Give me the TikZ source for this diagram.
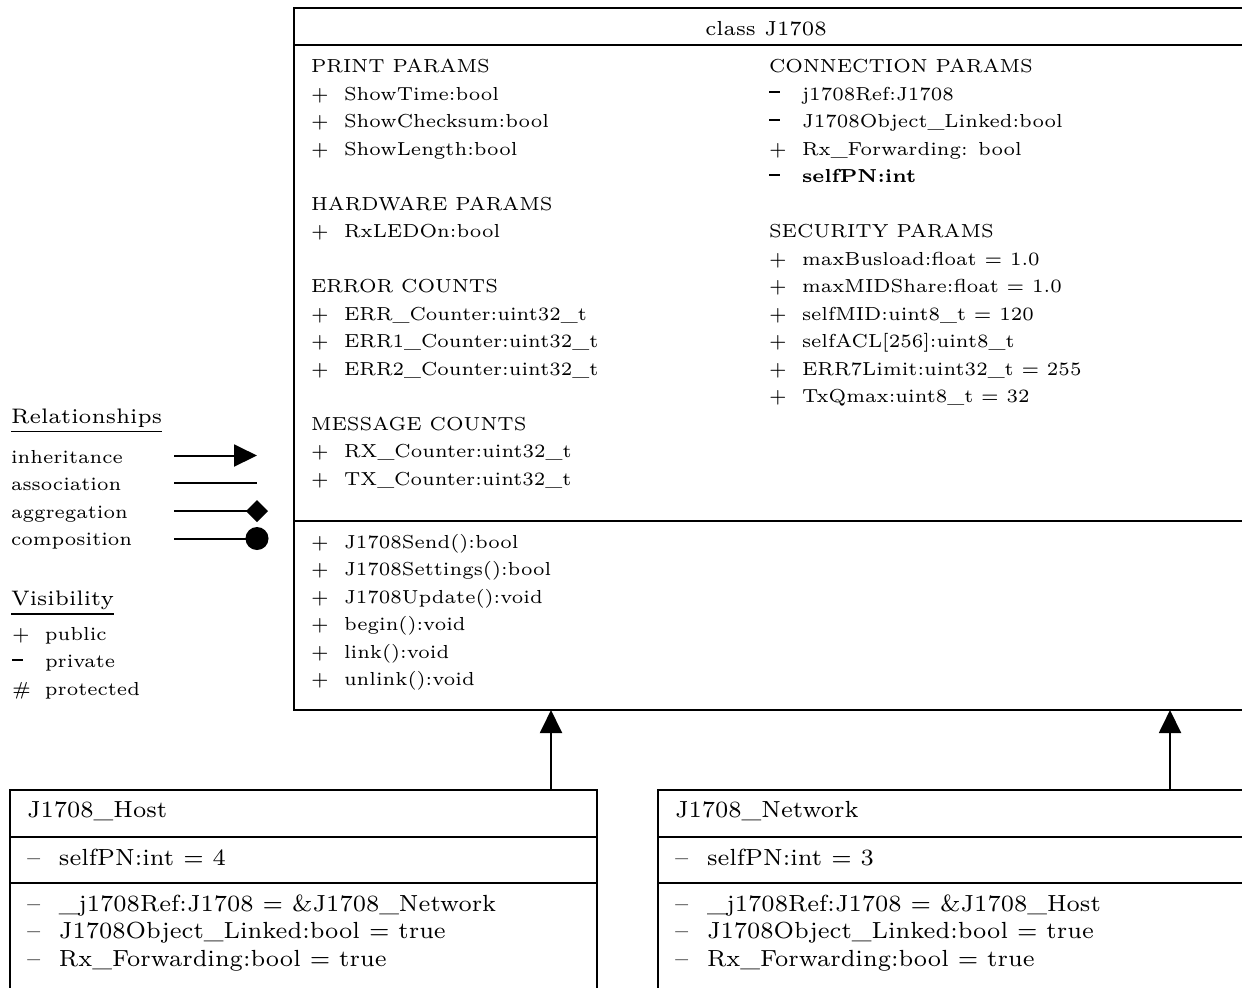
\documentclass[tikz,border=0pt]{standalone}
\usetikzlibrary{arrows.meta,fit}

% visibility markers
\newcommand\pubsym{+}
\newcommand\privsym{\rule[2pt]{3.3pt}{0.65pt}}
\newcommand\protsym{\#}
% member rows: marker column, then the member text
\newcommand\mrow[2]{\makebox[9.9pt][l]{#1}#2}
\newcommand\srow[2]{\makebox[9.6pt][l]{#1}#2}

\tikzset{
  frame/.style={draw, line width=0.6pt, inner sep=0pt, outer sep=0pt},
  sep/.style={line width=0.6pt},
  txt/.style={anchor=base west, inner sep=0pt, outer sep=0pt,
              font=\fontsize{5.65}{7}\selectfont},
  titletxt/.style={txt, anchor=base, font=\fontsize{6.1}{7}\selectfont},
  headtxt/.style={txt, font=\fontsize{6.3}{7}\selectfont},
  subtxt/.style={txt, font=\fontsize{7}{8}\selectfont},
  rel/.style={line width=0.6pt},
  inherit/.style={rel, -{Triangle[length=6.9pt,width=6.6pt]}},
  aggr/.style={rel, -{Diamond[length=6.6pt,width=6.6pt]}},
  compo/.style={rel, -{Circle[length=6.9pt]}},
}

\begin{document}
\begin{tikzpicture}[x=0.3pt, y=-0.3pt]
\clip (0,0) rectangle (1242,987);
\fill[white] (0,0) rectangle (1242,987);

% ---------------- class J1708 ----------------
\node[frame, fit={(294,8) (1250,710)}] (cls) {};
\draw[sep] (294,45) -- (1250,45);
\draw[sep] (294,521) -- (1250,521);
\node[titletxt] (clsname) at (766,35) {class J1708};

% attributes, left column
\node[txt] (print)  at (311,72.5)           {PRINT PARAMS};
\node[txt] (pl-1)   at (311,72.5+27.5*1)    {\mrow{\pubsym}{ShowTime:bool}};
\node[txt] (pl-2)   at (311,72.5+27.5*2)    {\mrow{\pubsym}{ShowChecksum:bool}};
\node[txt] (pl-3)   at (311,72.5+27.5*3)    {\mrow{\pubsym}{ShowLength:bool}};
\node[txt] (hw)     at (311,72.5+27.5*5)    {HARDWARE PARAMS};
\node[txt] (pl-6)   at (311,72.5+27.5*6)    {\mrow{\pubsym}{RxLEDOn:bool}};
\node[txt] (err)    at (311,72.5+27.5*8)    {ERROR COUNTS};
\node[txt] (pl-9)   at (311,72.5+27.5*9)    {\mrow{\pubsym}{ERR\_Counter:uint32\_t}};
\node[txt] (pl-10)  at (311,72.5+27.5*10)   {\mrow{\pubsym}{ERR1\_Counter:uint32\_t}};
\node[txt] (pl-11)  at (311,72.5+27.5*11)   {\mrow{\pubsym}{ERR2\_Counter:uint32\_t}};
\node[txt] (msg)    at (311,72.5+27.5*13)   {MESSAGE COUNTS};
\node[txt] (pl-14)  at (311,72.5+27.5*14)   {\mrow{\pubsym}{RX\_Counter:uint32\_t}};
\node[txt] (pl-15)  at (311,72.5+27.5*15)   {\mrow{\pubsym}{TX\_Counter:uint32\_t}};

% attributes, right column
\node[txt] (conn)   at (769,72.5)           {CONNECTION PARAMS};
\node[txt] (pr-1)   at (769,72.5+27.5*1)    {\mrow{\privsym}{j1708Ref:J1708}};
\node[txt] (pr-2)   at (769,72.5+27.5*2)    {\mrow{\privsym}{J1708Object\_Linked:bool}};
\node[txt] (pr-3)   at (769,72.5+27.5*3)    {\mrow{\pubsym}{Rx\_Forwarding: bool}};
\node[txt] (pr-4)   at (769,72.5+27.5*4)    {\mrow{\privsym}{\textbf{selfPN:int}}};
\node[txt] (sec)    at (769,72.5+27.5*6)    {SECURITY PARAMS};
\node[txt] (pr-7)   at (769,72.5+27.5*7)    {\mrow{\pubsym}{maxBusload:float = 1.0}};
\node[txt] (pr-8)   at (769,72.5+27.5*8)    {\mrow{\pubsym}{maxMIDShare:float = 1.0}};
\node[txt] (pr-9)   at (769,72.5+27.5*9)    {\mrow{\pubsym}{selfMID:uint8\_t = 120}};
\node[txt] (pr-10)  at (769,72.5+27.5*10)   {\mrow{\pubsym}{selfACL[256]:uint8\_t}};
\node[txt] (pr-11)  at (769,72.5+27.5*11)   {\mrow{\pubsym}{ERR7Limit:uint32\_t = 255}};
\node[txt] (pr-12)  at (769,72.5+27.5*12)   {\mrow{\pubsym}{TxQmax:uint8\_t = 32}};

% operations
\node[txt] (op-0)   at (311,548)          {\mrow{\pubsym}{J1708Send():bool}};
\node[txt] (op-1)   at (311,548+27.5*1)   {\mrow{\pubsym}{J1708Settings():bool}};
\node[txt] (op-2)   at (311,548+27.5*2)   {\mrow{\pubsym}{J1708Update():void}};
\node[txt] (op-3)   at (311,548+27.5*3)   {\mrow{\pubsym}{begin():void}};
\node[txt] (op-4)   at (311,548+27.5*4)   {\mrow{\pubsym}{link():void}};
\node[txt] (op-5)   at (311,548+27.5*5)   {\mrow{\pubsym}{unlink():void}};

% ---------------- legend ----------------
\node[headtxt] (relhead) at (11,423) {\underline{Relationships}};
\node[txt] (lg-inh)  at (11,463)   {inheritance};
\node[txt] (lg-ass)  at (11,490.5) {association};
\node[txt] (lg-agg)  at (11,518)   {aggregation};
\node[txt] (lg-com)  at (11,545.5) {composition};
\coordinate (inh-a) at (174,455.5); \coordinate (inh-b) at (257,455.5);
\coordinate (ass-a) at (174,483);   \coordinate (ass-b) at (257,483);
\coordinate (agg-a) at (174,511);   \coordinate (agg-b) at (268,511);
\coordinate (com-a) at (174,538.5); \coordinate (com-b) at (268.5,538.5);
\draw[inherit] (inh-a) -- (inh-b);
\draw[rel]     (ass-a) -- (ass-b);
\draw[aggr]    (agg-a) -- (agg-b);
\draw[compo]   (com-a) -- (com-b);

\node[headtxt] (vishead) at (11,605) {\underline{Visibility}};
\node[txt] (vis-pub) at (12,640)   {\mrow{\pubsym}{public}};
\node[txt] (vis-prv) at (12,667.5) {\mrow{\privsym}{private}};
\node[txt] (vis-prt) at (12,695)   {\mrow{\protsym}{protected}};

% ---------------- J1708_Host ----------------
\node[frame, fit={(10,790) (597,1010)}] (host) {};
\draw[sep] (10,837) -- (597,837);
\draw[sep] (10,883) -- (597,883);
\node[subtxt] (hostname) at (27,817) {J1708\_Host};
\node[subtxt] (h-0) at (27,865)        {\srow{--}{selfPN:int = 4}};
\node[subtxt] (h-1) at (27,911)        {\srow{--}{\_j1708Ref:J1708 = \&J1708\_Network}};
\node[subtxt] (h-2) at (27,911+27.5)   {\srow{--}{J1708Object\_Linked:bool = true}};
\node[subtxt] (h-3) at (27,911+27.5*2) {\srow{--}{Rx\_Forwarding:bool = true}};

% ---------------- J1708_Network ----------------
\node[frame, fit={(658,790) (1250,1010)}] (net) {};
\draw[sep] (658,837) -- (1250,837);
\draw[sep] (658,883) -- (1250,883);
\node[subtxt] (netname) at (675,817) {J1708\_Network};
\node[subtxt] (n-0) at (675,865)        {\srow{--}{selfPN:int = 3}};
\node[subtxt] (n-1) at (675,911)        {\srow{--}{\_j1708Ref:J1708 = \&J1708\_Host}};
\node[subtxt] (n-2) at (675,911+27.5)   {\srow{--}{J1708Object\_Linked:bool = true}};
\node[subtxt] (n-3) at (675,911+27.5*2) {\srow{--}{Rx\_Forwarding:bool = true}};

% ---------------- inheritance ----------------
\coordinate (hostport) at (551,790);
\coordinate (netport)  at (1170,790);
\draw[inherit] (hostport) -- (hostport |- cls.south);
\draw[inherit] (netport)  -- (netport |- cls.south);
\end{tikzpicture}
\end{document}
